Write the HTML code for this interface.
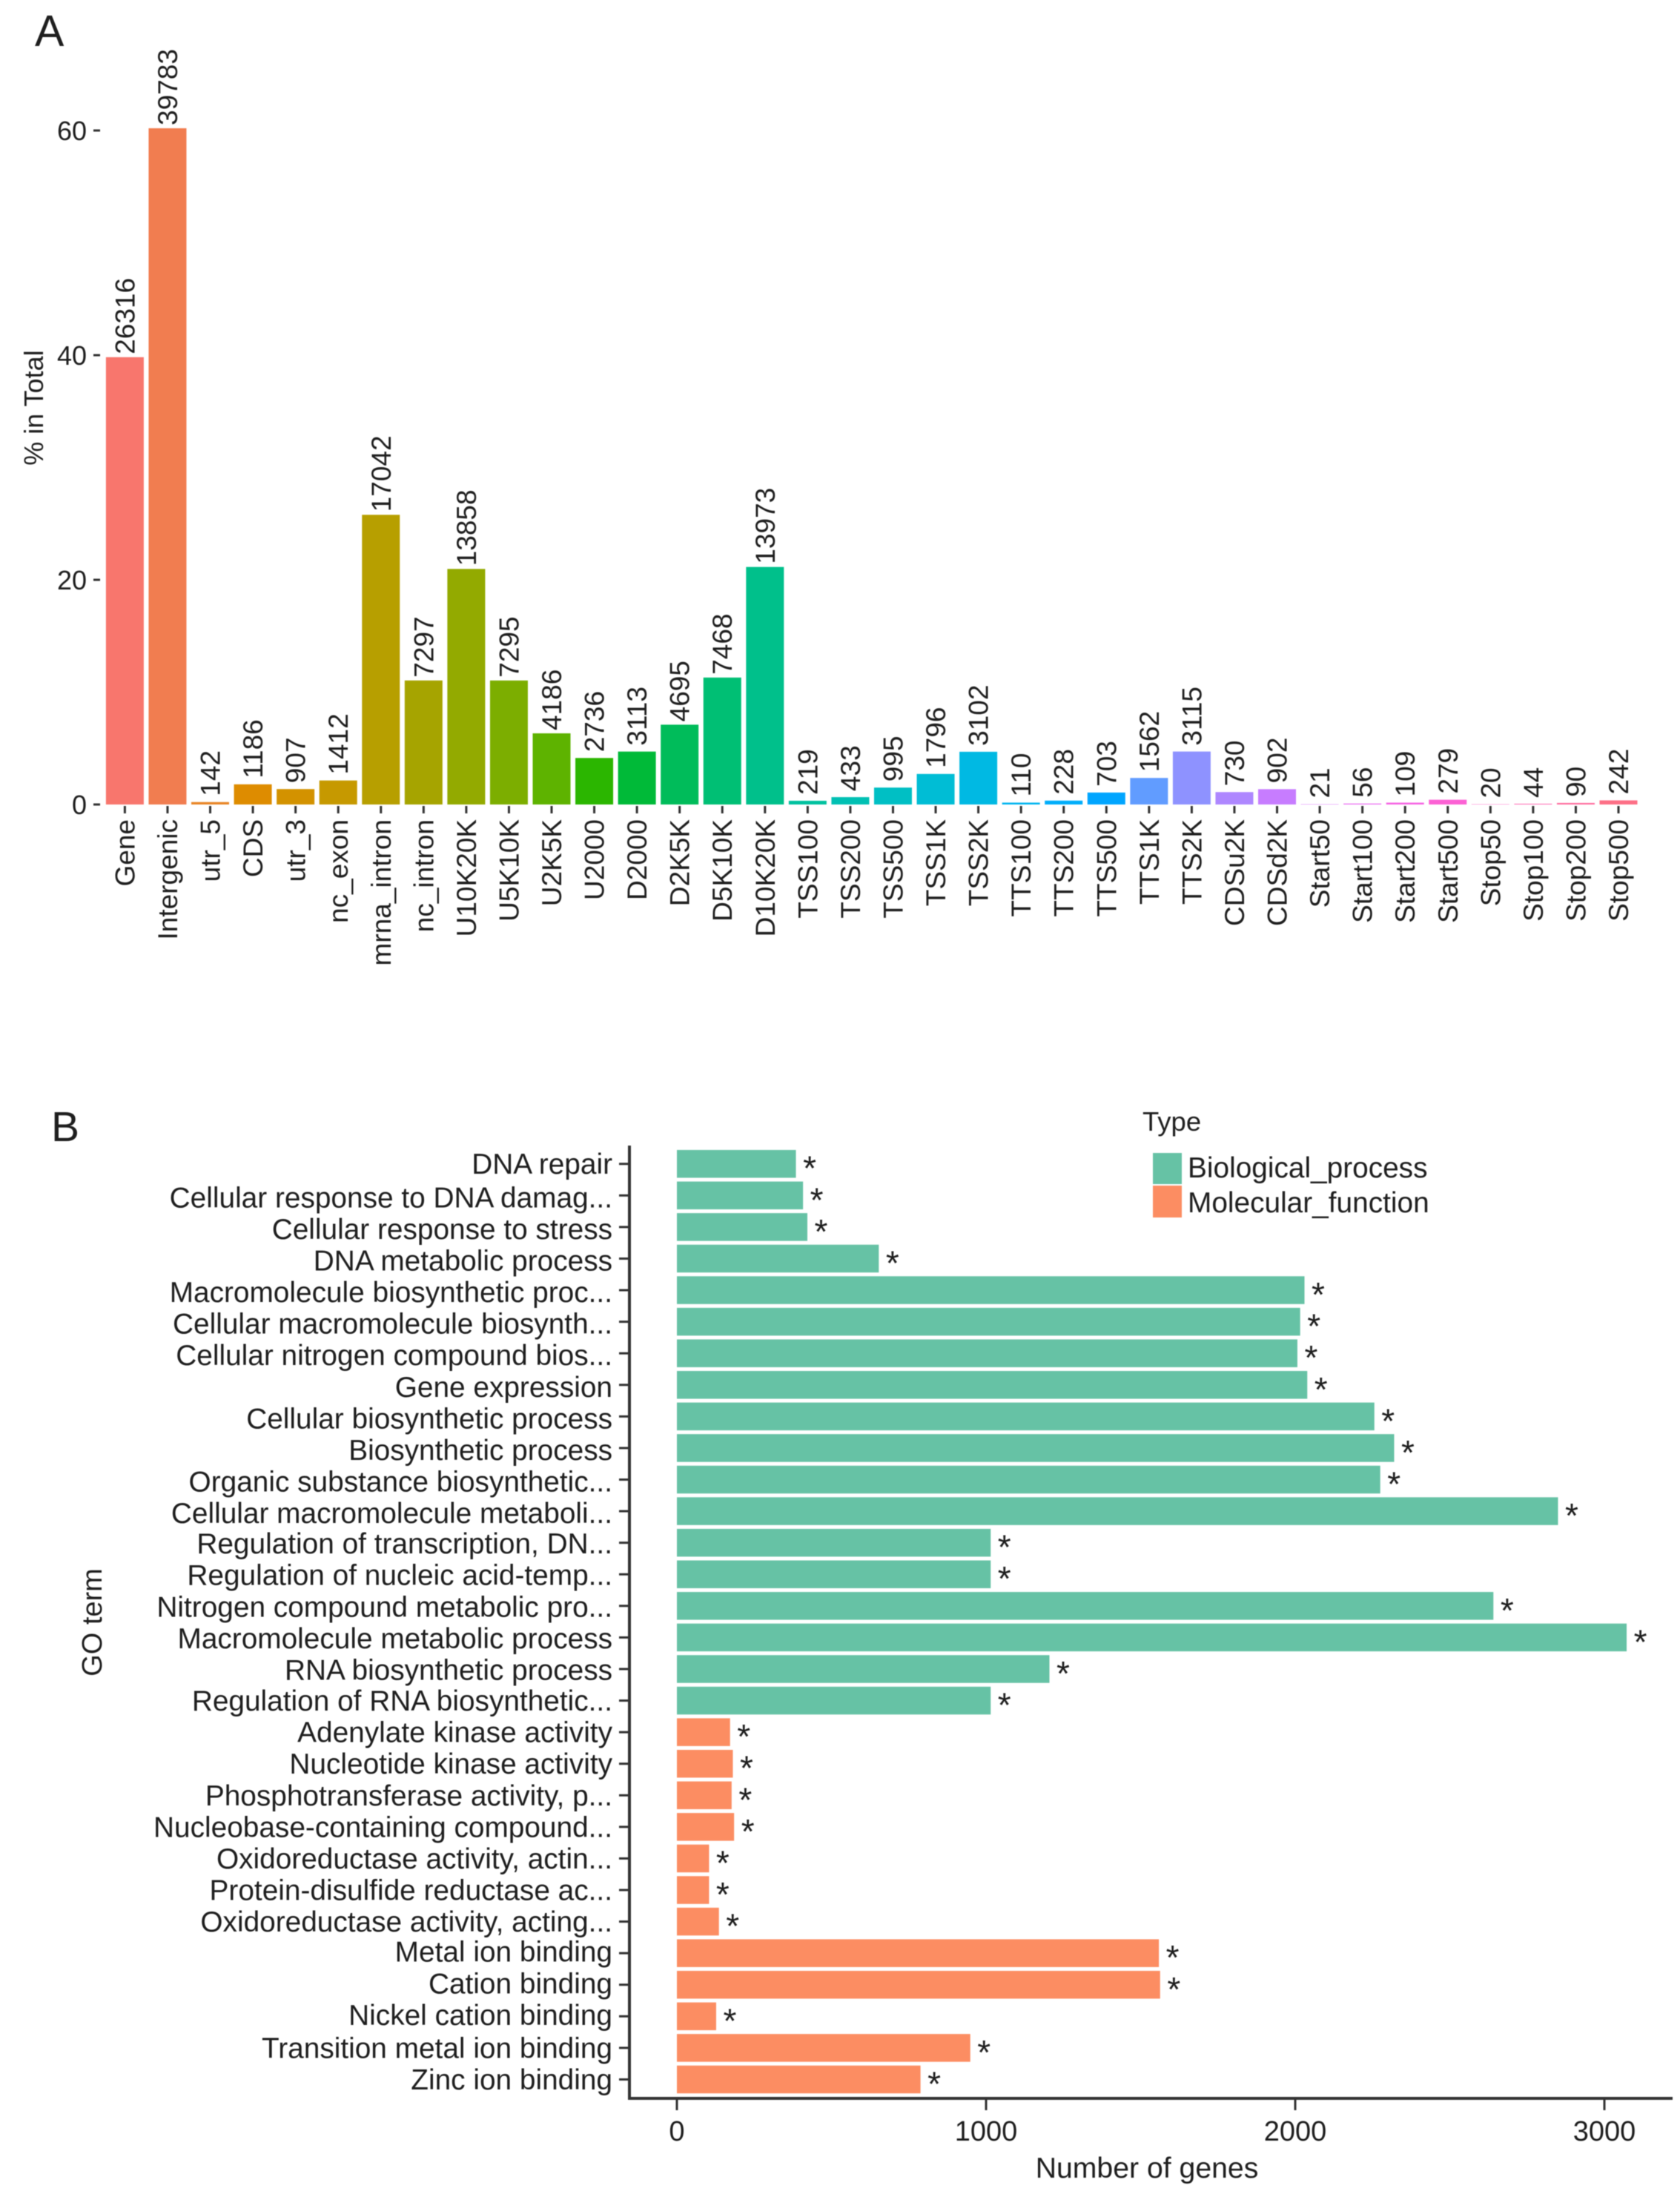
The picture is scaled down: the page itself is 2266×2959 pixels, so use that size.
<!DOCTYPE html>
<html>
<head>
<meta charset="utf-8">
<title>Genomic feature distribution and GO terms</title>
<style>
html,body{margin:0;padding:0;background:#fff;}
svg{display:block;filter:blur(0.6px);}
text{font-family:"Liberation Sans",Arial,sans-serif;fill:#1e1e1e;}
</style>
</head>
<body>
<svg id="figure" xmlns="http://www.w3.org/2000/svg" width="2266" height="2959" viewBox="0 0 2266 2959">
  <rect x="0" y="0" width="2266" height="2959" fill="#ffffff"/>
  <text x="47" y="62" font-size="59">A</text>
  <text x="69" y="1539" font-size="57">B</text>
  <text transform="translate(58,550) rotate(-90)" text-anchor="middle" font-size="36">% in Total</text>
  <g id="chartA"></g>
  <g id="chartB"></g>
  <text transform="translate(137,2188) rotate(-90)" text-anchor="middle" font-size="38">GO term</text>
  <text x="1547" y="2937" text-anchor="middle" font-size="39.2">Number of genes</text>
  <g>
    <text x="1541" y="1525" font-size="36.5">Type</text>
    <rect x="1555" y="1555" width="39" height="42" fill="#66c2a5"/>
    <rect x="1555" y="1599" width="39" height="43" fill="#fc8d62"/>
    <text x="1602" y="1588" font-size="38.8">Biological_process</text>
    <text x="1602" y="1635" font-size="38.8">Molecular_function</text>
  </g>
</svg>
<script>
var featureCategories = ["Gene","Intergenic","utr_5","CDS","utr_3","nc_exon","mrna_intron","nc_intron","U10K20K","U5K10K","U2K5K","U2000","D2000","D2K5K","D5K10K","D10K20K","TSS100","TSS200","TSS500","TSS1K","TSS2K","TTS100","TTS200","TTS500","TTS1K","TTS2K","CDSu2K","CDSd2K","Start50","Start100","Start200","Start500","Stop50","Stop100","Stop200","Stop500"];
var featureCounts = [26316,39783,142,1186,907,1412,17042,7297,13858,7295,4186,2736,3113,4695,7468,13973,219,433,995,1796,3102,110,228,703,1562,3115,730,902,21,56,109,279,20,44,90,242];
var featureTotal = 66085;
var percentTicks = [0,20,40,60];

var bpTerms = ["DNA repair","Cellular response to DNA damag...","Cellular response to stress","DNA metabolic process","Macromolecule biosynthetic proc...","Cellular macromolecule biosynth...","Cellular nitrogen compound bios...","Gene expression","Cellular biosynthetic process","Biosynthetic process","Organic substance biosynthetic...","Cellular macromolecule metaboli...","Regulation of transcription, DN...","Regulation of nucleic acid-temp...","Nitrogen compound metabolic pro...","Macromolecule metabolic process","RNA biosynthetic process","Regulation of RNA biosynthetic..."];
var bpCounts = [385,408,422,653,2030,2016,2007,2039,2256,2320,2275,2850,1015,1015,2641,3072,1205,1015];
var mfTerms = ["Adenylate kinase activity","Nucleotide kinase activity","Phosphotransferase activity, p...","Nucleobase-containing compound...","Oxidoreductase activity, actin...","Protein-disulfide reductase ac...","Oxidoreductase activity, acting...","Metal ion binding","Cation binding","Nickel cation binding","Transition metal ion binding","Zinc ion binding"];
var mfCounts = [172,181,177,185,104,104,136,1559,1563,127,949,788];
var geneTicks = [0,1000,2000,3000];

var SVGNS = "http://www.w3.org/2000/svg";
function make(parent, tag, props, txt) {
  var el = document.createElementNS(SVGNS, tag);
  for (var k in props) { el.setAttribute(k, props[k]); }
  if (txt !== undefined) { el.textContent = txt; }
  parent.appendChild(el);
  return el;
}
function slug(s) {
  return String(s).toLowerCase().replace(/[^a-z0-9]+/g, "-").replace(/^-|-$/g, "");
}
/* ggplot-style hue colour: HCL (c=100, l=65) converted to sRGB */
function hueColor(h) {
  var L = 65, C = 100, r = h * Math.PI / 180;
  var u = C * Math.cos(r), v = C * Math.sin(r);
  var Y = Math.pow((L + 16) / 116, 3);
  var up = u / (13 * L) + 0.19784, vp = v / (13 * L) + 0.46834;
  var X = 9 * Y * up / (4 * vp);
  var Z = -X / 3 - 5 * Y + 3 * Y / vp;
  var lin = [
    3.2406 * X - 1.5372 * Y - 0.4986 * Z,
    -0.9689 * X + 1.8758 * Y + 0.0415 * Z,
    0.0557 * X - 0.2040 * Y + 1.0570 * Z
  ];
  var out = lin.map(function (c) {
    c = Math.max(0, Math.min(1, c));
    c = c <= 0.0031308 ? 12.92 * c : 1.055 * Math.pow(c, 1 / 2.4) - 0.055;
    return Math.round(c * 255);
  });
  return "rgb(" + out.join(",") + ")";
}

/* Panel A */
var gA = document.getElementById("chartA");
var y0A = 1085;
var pxPerPct = 15.15;
var x0A = 168.4;
var stepA = 57.56;
var barWA = 51;
function xA(i) { return x0A + i * stepA; }
function yA(pct) { return y0A - pct * pxPerPct; }

percentTicks.forEach(function (t) {
  var y = yA(t);
  var mark = make(gA, "rect", {x: 126, y: y - 1.5, width: 9, height: 3, fill: "#333"});
  
  
  var lab = make(gA, "text", {x: 117, y: y + 13, "text-anchor": "end", "font-size": 36}, String(t));
  
  
});

featureCategories.forEach(function (cat, i) {
  var cx = xA(i);
  var pct = featureCounts[i] / featureTotal * 100;
  var top = yA(pct);
  var bar = make(gA, "rect", {x: cx - barWA / 2, y: top, width: barWA, height: y0A - top, fill: hueColor(15 + i * 10)});
  
  
  var tick = make(gA, "rect", {x: cx - 1.5, y: y0A + 2, width: 3, height: 10, fill: "#333"});
  
  
  var label = make(gA, "text", {transform: "translate(" + (cx + 13) + ",1105) rotate(-90)", "text-anchor": "end", "font-size": 37}, cat);
  
  
  var gap = featureCounts[i] >= 4000 ? 4 : 8;
  var value = make(gA, "text", {transform: "translate(" + (cx + 13) + "," + (top - gap) + ") rotate(-90)", "text-anchor": "start", "font-size": 37}, String(featureCounts[i]));
  
  
});

/* Panel B */
var gB = document.getElementById("chartB");
var x0B = 913;
var pxPerGene = 0.417;
var y0B = 1569.7;
var stepB = 42.58;
var barHB = 37.5;
var axisX = 849;
var axisY = 2830;
function xB(v) { return x0B + v * pxPerGene; }
function yB(i) { return y0B + i * stepB; }
/* the reference's labels drift a little from their bars through the middle of the axis */
function labelDrift(i) {
  if (i >= 1 && i <= 11) { return 2.5; }
  if (i >= 12 && i <= 16) { return 1; }
  if (i >= 25 && i <= 27) { return -2; }
  return 0;
}

var yAxisLine = make(gB, "rect", {x: axisX - 2, y: 1545, width: 4, height: axisY - 1545 + 2, fill: "#333"});


var xAxisLine = make(gB, "rect", {x: axisX - 2, y: axisY - 2, width: 2256 - axisX + 2, height: 4, fill: "#333"});



geneTicks.forEach(function (t) {
  var x = xB(t);
  var mark = make(gB, "rect", {x: x - 1.5, y: axisY, width: 3, height: 16, fill: "#333"});
  
  
  var lab = make(gB, "text", {x: x, y: 2887, "text-anchor": "middle", "font-size": 38}, String(t));
  
  
});

function drawRow(term, count, rowIndex, color, group) {
  var cy = yB(rowIndex);
  var end = xB(count);
  var bar = make(gB, "rect", {x: x0B, y: cy - barHB / 2, width: end - x0B, height: barHB, fill: color});
  
  
  var tick = make(gB, "rect", {x: 835, y: cy - 1.5, width: 14, height: 3, fill: "#333"});
  
  
  var label = make(gB, "text", {x: 826, y: cy + 13.5 + labelDrift(rowIndex), "text-anchor": "end", "font-size": 38.8}, term);
  
  
  var star = make(gB, "text", {x: end + 18.5, y: cy + 22, "text-anchor": "middle", "font-size": 46}, "*");
  
  
}
bpTerms.forEach(function (term, i) {
  drawRow(term, bpCounts[i], i, "#66c2a5", "biological-process");
});
mfTerms.forEach(function (term, i) {
  drawRow(term, mfCounts[i], bpTerms.length + i, "#fc8d62", "molecular-function");
});
</script>
</body>
</html>
